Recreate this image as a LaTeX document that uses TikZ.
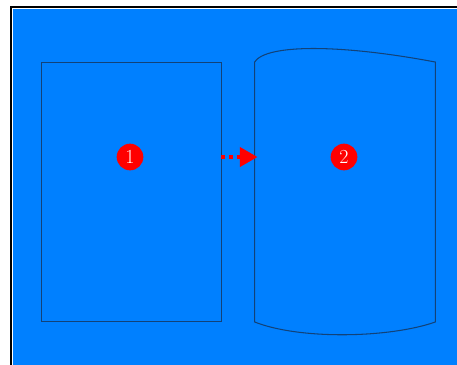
\documentclass[tikz,border=0pt]{standalone}
\usetikzlibrary{arrows.meta,positioning}

\definecolor{sheetblue}{RGB}{0,128,255}
\definecolor{edgeblue}{RGB}{18,66,120}

\begin{document}
\begin{tikzpicture}[
  x=0.03cm, y=-0.03cm,
  page/.style={
    draw=edgeblue,
    line width=0.75pt,
    minimum width=5.4cm,
    minimum height=7.77cm,
    inner sep=0pt
  },
  badge/.style={
    circle,
    fill=red,
    text=white,
    minimum size=0.8cm,
    inner sep=0pt,
    font=\fontsize{17}{20}\selectfont
  },
  hop/.style={
    red,
    line width=3.6pt,
    dash pattern=on 3pt off 3.6pt,
    -{Triangle[length=15pt,width=16pt]}
  }
]
\useasboundingbox (0,0) rectangle (457,364);

% Frame
\fill[sheetblue] (12,8) rectangle (480,390);
\draw[white, line width=0.8pt] (12.5,8.5) rectangle (480,390);
\draw[black, line width=1.4pt] (11,7) rectangle (482,392);

% Pages
\node[page] (page1) at (131,191.5) {};
\node[page, draw=none] (page2) at (345,192) {};
\draw[edgeblue, line width=0.9pt]
  (page2.north west) .. controls (266,44) and (340,44) .. (page2.north east)
  -- (page2.south east) .. controls (390,338) and (300,340) .. (page2.south west)
  -- cycle;

% Badges
\node[badge] (badge1) at (130,157) {1};
\node[badge] (badge2) at (344,157) {2};

% Arrow
\coordinate (tip) at ([xshift=0.09cm]page2.west |- badge2);
\draw[hop] (page1.east |- badge1) -- (tip);

\end{tikzpicture}
\end{document}
